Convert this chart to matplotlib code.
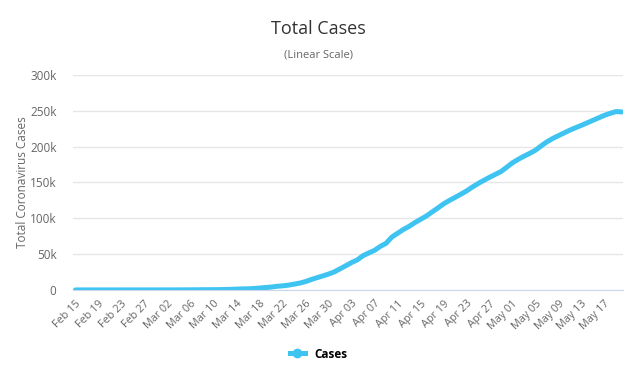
import matplotlib
matplotlib.use('Agg')
from matplotlib import pyplot as plt
from matplotlib.ticker import FuncFormatter
import numpy as np
import pandas as pd

plt.rcParams['font.family'] = ['Open Sans', 'DejaVu Sans']

# daily dates Feb 15 .. May 20
dates = pd.date_range('2020-02-15', '2020-05-20', freq='D')
date_labels = [d.strftime('%b %d') for d in dates]

cases = [
    9, 9, 9, 9, 9, 9, 9, 9, 9,                       # Feb 15-23
    13, 13, 13, 15, 20, 23,                          # Feb 24-29
    36, 40, 51, 85, 115, 163, 206, 273, 321, 382,    # Mar 01-10
    456, 590, 798, 1140, 1391, 1543, 1950, 2626, 3269, 3983,   # Mar 11-20
    5018, 5683, 6650, 8077, 9529, 11658, 14543, 17089, 19522, 22141,  # Mar 21-30
    25150,                                           # Mar 31
    29474, 33718, 38168, 41903, 47806, 51608, 55242, 60733, 65077, 73758,  # Apr 01-10
    78991, 84279, 88621, 93873, 98476, 103093, 108692, 114217, 120067, 124743,  # Apr 11-20
    129044, 133495, 138078, 143464, 148377, 152840, 157149, 161145, 165221, 171253,  # Apr 21-30
    177454, 182260, 186599, 190584, 194990, 201101, 206715, 211364, 215260, 219183,  # May 01-10
    223060, 226463, 229705, 233151, 236711, 240161, 243695, 246406, 248818, 248293,  # May 11-20
]

y_ticks = [0, 50000, 100000, 150000, 200000, 250000, 300000]

fig = plt.figure(figsize=(6.37, 3.84), dpi=100)
ax = fig.add_axes([0.115, 0.245, 0.863, 0.56])

x = np.arange(len(cases))
ax.plot(x, cases, color='#3fc4f2', lw=3.6, solid_capstyle='round', label='Cases')

ax.set_ylim(0, 300000)
ax.set_xlim(-0.4, len(cases) - 1 + 0.2)
ax.set_yticks(y_ticks)
ax.yaxis.set_major_formatter(FuncFormatter(lambda v, p: '0' if v == 0 else '%dk' % (v / 1000)))
ax.set_xticks(x[::4])
ax.set_xticklabels(date_labels[::4], rotation=45, ha='right', va='top', rotation_mode='anchor')

ax.grid(axis='y', color='#e6e6e6', lw=1)
ax.set_axisbelow(True)
for s in ['top', 'right', 'left']:
    ax.spines[s].set_visible(False)
ax.spines['bottom'].set_color('#ccd6eb')
ax.tick_params(axis='y', length=0, pad=12, labelsize=8.5, labelcolor='#666666')
ax.tick_params(axis='x', length=0, pad=6, labelsize=7.8, labelcolor='#666666')

ax.set_ylabel('Total Coronavirus Cases', fontsize=8.5, color='#666666', labelpad=1)

fig.text(0.5, 0.925, 'Total Cases', ha='center', va='center', fontsize=13, color='#333333')
fig.text(0.5, 0.857, '(Linear Scale)', ha='center', va='center', fontsize=8, color='#666666')

fig.legend(loc='center', bbox_to_anchor=(0.5, 0.078), frameon=False,
           handlelength=1.3, prop={'weight': 'bold', 'size': 8.5},
           handles=[plt.Line2D([], [], color='#3fc4f2', lw=3.6, marker='o', markersize=6)],
           labels=['Cases'])

plt.savefig('out.png', dpi=100)
